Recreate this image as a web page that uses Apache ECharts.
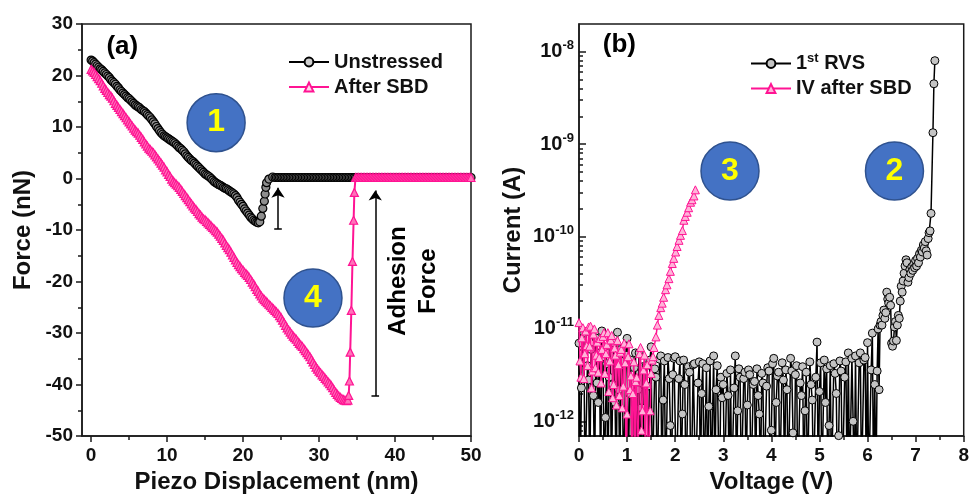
<!DOCTYPE html>
<html><head><meta charset="utf-8">
<script src="https://cdn.jsdelivr.net/npm/echarts@6/dist/echarts.min.js"></script>
<style>html,body{margin:0;padding:0;background:#fff}#c{width:972px;height:499px}</style>
</head><body><div id="c"></div><script>
// ---------------- Panel (a): force curves ----------------
const unstressedX = [
  0,0.2,0.4,0.6,0.8,1,1.2,1.4,1.6,1.8,
  2,2.2,2.4,2.6,2.8,3,3.2,3.4,3.6,3.8,
  4,4.2,4.4,4.6,4.8,5,5.2,5.4,5.6,5.8,
  6,6.2,6.4,6.6,6.8,7,7.2,7.4,7.6,7.8,
  8,8.2,8.4,8.6,8.8,9,9.2,9.4,9.6,9.8,
  10,10.2,10.4,10.6,10.8,11,11.2,11.4,11.6,11.8,
  12,12.2,12.4,12.6,12.8,13,13.2,13.4,13.6,13.8,
  14,14.2,14.4,14.6,14.8,15,15.2,15.4,15.6,15.8,
  16,16.2,16.4,16.6,16.8,17,17.2,17.4,17.6,17.8,
  18,18.2,18.4,18.6,18.8,19,19.2,19.4,19.6,19.8,
  20,20.2,20.4,20.6,20.8,21,21.2,21.4,21.6,21.8,
  22,22.2,22.4,22.6,22.8,22.9,23,23.1,23.4,23.9,
  24.2,24.4,24.6,24.8,25,25.2,25.4,25.6,25.8,26,26.2,26.4,26.6,26.8,27,27.2,27.4,27.6,27.8,28,
  28.2,28.4,28.6,28.8,29,29.2,29.4,29.6,29.8,30,30.2,30.4,30.6,30.8,31,31.2,31.4,31.6,31.8,32,
  32.2,32.4,32.6,32.8,33,33.2,33.4,33.6,33.8,34,34.2,34.4,34.6,34.8,35,
  35.4,35.8,36.2,36.6,37,37.4,37.8,38.2,38.6,39,39.4,39.8,40.2,40.6,41,41.4,41.8,42.2,42.6,43,
  43.4,43.8,44.2,44.6,45,45.4,45.8,46.2,46.6,47,47.4,47.8,48.2,48.6,49,49.4,49.8,50];
const unstressedF = [
  23.0,22.8,22.5,22.2,21.9,21.6,21.3,21.1,20.8,20.5,
  20.2,19.9,19.6,19.2,18.9,18.6,18.3,17.9,17.6,17.2,
  16.9,16.6,16.3,16.0,15.7,15.5,15.2,14.9,14.6,14.3,
  14.1,13.9,13.7,13.4,13.2,13.0,12.7,12.4,12.1,11.8,
  11.4,11.0,10.6,10.1,9.7,9.3,8.9,8.6,8.3,8.1,
  7.9,7.7,7.5,7.3,7.1,6.9,6.6,6.3,6.0,5.8,
  5.5,5.2,4.8,4.4,4.1,3.8,3.5,3.3,3.0,2.7,
  2.4,2.1,1.8,1.5,1.2,0.9,0.7,0.5,0.3,0.0,
  -0.3,-0.6,-0.8,-1.0,-1.2,-1.3,-1.5,-1.7,-1.9,-2.0,
  -2.2,-2.4,-2.6,-2.8,-3.0,-3.3,-3.7,-4.2,-4.6,-5.0,
  -5.4,-5.9,-6.3,-6.7,-7.1,-7.5,-7.8,-8.1,-8.3,-8.5,
  -8.6,-8.4,-7.3,-5.8,-4.4,-3.0,-1.7,-0.8,-0.1,0.3,
  0.2,0.2,0.2,0.2,0.2,0.2,0.2,0.2,0.2,0.2,0.2,0.2,0.2,0.2,0.2,0.2,0.2,0.2,0.2,0.2,
  0.2,0.2,0.2,0.2,0.2,0.2,0.2,0.2,0.2,0.2,0.2,0.2,0.2,0.2,0.2,0.2,0.2,0.2,0.2,0.2,
  0.2,0.2,0.2,0.2,0.2,0.2,0.2,0.2,0.2,0.2,0.2,0.2,0.2,0.2,0.2,
  0.2,0.2,0.2,0.2,0.2,0.2,0.2,0.2,0.2,0.2,0.2,0.2,0.2,0.2,0.2,0.2,0.2,0.2,0.2,0.2,
  0.2,0.2,0.2,0.2,0.2,0.2,0.2,0.2,0.2,0.2,0.2,0.2,0.2,0.2,0.2,0.2,0.2,0.2];
const afterSbdX = [
  0,0.2,0.4,0.6,0.8,1,1.2,1.4,1.6,1.8,
  2,2.2,2.4,2.6,2.8,3,3.2,3.4,3.6,3.8,
  4,4.2,4.4,4.6,4.8,5,5.2,5.4,5.6,5.8,
  6,6.2,6.4,6.6,6.8,7,7.2,7.4,7.6,7.8,
  8,8.2,8.4,8.6,8.8,9,9.2,9.4,9.6,9.8,
  10,10.2,10.4,10.6,10.8,11,11.2,11.4,11.6,11.8,
  12,12.2,12.4,12.6,12.8,13,13.2,13.4,13.6,13.8,
  14,14.2,14.4,14.6,14.8,15,15.2,15.4,15.6,15.8,
  16,16.2,16.4,16.6,16.8,17,17.2,17.4,17.6,17.8,
  18,18.2,18.4,18.6,18.8,19,19.2,19.4,19.6,19.8,
  20,20.2,20.4,20.6,20.8,21,21.2,21.4,21.6,21.8,
  22,22.2,22.4,22.6,22.8,23,23.2,23.4,23.6,23.8,
  24,24.2,24.4,24.6,24.8,25,25.2,25.4,25.6,25.8,
  26,26.2,26.4,26.6,26.8,27,27.2,27.4,27.6,27.8,
  28,28.2,28.4,28.6,28.8,29,29.2,29.4,29.6,29.8,
  30,30.2,30.4,30.6,30.8,31,31.2,31.4,31.6,31.8,
  32,32.2,32.4,32.6,32.8,33,33.2,33.4,33.6,
  33.8,33.9,34,34.1,34.25,34.4,34.55,34.65,34.8,
  35,35.2,35.4,35.6,35.8,36,36.2,36.4,36.6,36.8,
  37,37.2,37.4,37.6,37.8,38,38.2,38.4,38.6,38.8,
  39,39.2,39.4,39.6,39.8,40,40.2,40.4,40.6,40.8,
  41,41.2,41.4,41.6,41.8,42,42.2,42.4,42.6,42.8,
  43,43.2,43.4,43.6,43.8,44,44.2,44.4,44.6,44.8,
  45,45.2,45.4,45.6,45.8,46,46.2,46.4,46.6,46.8,
  47,47.2,47.4,47.6,47.8,48,48.2,48.4,48.6,48.8,
  49,49.2,49.4,49.6,49.8,50];
const afterSbdF = [
  21.2,20.9,20.6,20.2,19.8,19.4,19.0,18.5,18.0,17.5,
  17.1,16.7,16.3,16.0,15.6,15.1,14.6,14.2,13.8,13.4,
  13.0,12.6,12.2,11.8,11.4,11.0,10.6,10.2,9.8,9.4,
  9.1,8.8,8.4,8.0,7.6,7.1,6.7,6.3,5.9,5.6,
  5.3,5.0,4.6,4.2,3.8,3.4,3.0,2.6,2.2,1.7,
  1.3,0.8,0.4,-0.1,-0.5,-0.8,-1.1,-1.4,-1.7,-2.1,
  -2.5,-2.9,-3.3,-3.7,-4.1,-4.5,-4.9,-5.3,-5.7,-6.0,
  -6.4,-6.8,-7.1,-7.5,-7.8,-8.0,-8.3,-8.6,-8.9,-9.2,
  -9.5,-9.8,-10.1,-10.4,-10.8,-11.2,-11.6,-12.0,-12.5,-13.0,
  -13.4,-13.8,-14.3,-14.8,-15.3,-15.8,-16.3,-16.7,-17.1,-17.5,
  -17.8,-18.2,-18.5,-18.8,-19.2,-19.6,-20.1,-20.5,-21.0,-21.5,
  -21.9,-22.4,-22.8,-23.2,-23.5,-23.8,-24.1,-24.4,-24.7,-25.0,
  -25.3,-25.6,-25.9,-26.2,-26.6,-27.0,-27.5,-28.0,-28.5,-29.0,
  -29.4,-29.8,-30.2,-30.6,-30.9,-31.2,-31.6,-32.0,-32.3,-32.6,
  -33.0,-33.4,-33.8,-34.2,-34.6,-35.1,-35.6,-36.1,-36.6,-37.0,
  -37.4,-37.7,-38.1,-38.4,-38.8,-39.1,-39.5,-39.8,-40.2,-40.6,
  -41.1,-41.5,-41.9,-42.2,-42.5,-42.7,-42.9,-43.0,-43.1,
  -43.0,-42.1,-39.3,-33.7,-25.6,-16.1,-8.1,-2.7,0.2,
  0.2,0.2,0.2,0.2,0.2,0.2,0.2,0.2,0.2,0.2,
  0.2,0.2,0.2,0.2,0.2,0.2,0.2,0.2,0.2,0.2,
  0.2,0.2,0.2,0.2,0.2,0.2,0.2,0.2,0.2,0.2,
  0.2,0.2,0.2,0.2,0.2,0.2,0.2,0.2,0.2,0.2,
  0.2,0.2,0.2,0.2,0.2,0.2,0.2,0.2,0.2,0.2,
  0.2,0.2,0.2,0.2,0.2,0.2,0.2,0.2,0.2,0.2,
  0.2,0.2,0.2,0.2,0.2,0.2,0.2,0.2,0.2,0.2,
  0.2,0.2,0.2,0.2,0.2,0.2];

// ---------------- Panel (b): I-V curves (current in pA) ----------------
const rvsV = [
  0,0.025,0.05,0.075,0.1,0.125,0.15,0.175,0.2,0.225,0.25,0.275,0.3,0.325,0.35,0.375,0.4,0.425,0.45,0.475,
  0.5,0.525,0.55,0.575,0.6,0.625,0.65,0.675,0.7,0.725,0.75,0.775,0.8,0.825,0.85,0.875,0.9,0.925,0.95,0.975,
  1,1.025,1.05,1.075,1.1,1.125,1.15,1.175,1.2,1.225,1.25,1.275,1.3,1.325,1.35,1.375,1.4,1.425,1.45,1.475,
  1.5,1.525,1.55,1.575,1.6,1.625,1.65,1.675,1.7,1.725,1.75,1.775,1.8,1.825,1.85,1.875,1.9,1.925,1.95,1.975,
  2,2.025,2.05,2.075,2.1,2.125,2.15,2.175,2.2,2.225,2.25,2.275,2.3,2.325,2.35,2.375,2.4,2.425,2.45,2.475,
  2.5,2.525,2.55,2.575,2.6,2.625,2.65,2.675,2.7,2.725,2.75,2.775,2.8,2.825,2.85,2.875,2.9,2.925,2.95,2.975,
  3,3.025,3.05,3.075,3.1,3.125,3.15,3.175,3.2,3.225,3.25,3.275,3.3,3.325,3.35,3.375,3.4,3.425,3.45,3.475,
  3.5,3.525,3.55,3.575,3.6,3.625,3.65,3.675,3.7,3.725,3.75,3.775,3.8,3.825,3.85,3.875,3.9,3.925,3.95,3.975,
  4,4.025,4.05,4.075,4.1,4.125,4.15,4.175,4.2,4.225,4.25,4.275,4.3,4.325,4.35,4.375,4.4,4.425,4.45,4.475,
  4.5,4.525,4.55,4.575,4.6,4.625,4.65,4.675,4.7,4.725,4.75,4.775,4.8,4.825,4.85,4.875,4.9,4.925,4.95,4.975,
  5,5.025,5.05,5.075,5.1,5.125,5.15,5.175,5.2,5.225,5.25,5.275,5.3,5.325,5.35,5.375,5.4,5.425,5.45,5.475,
  5.5,5.525,5.55,5.575,5.6,5.625,5.65,5.675,5.7,5.725,5.75,5.775,5.8,5.825,5.85,5.875,5.9,5.925,5.95,5.975,
  6,6.025,6.05,6.075,6.1,6.125,6.15,6.175,
  6.2,6.22,6.24,6.26,6.28,6.3,6.32,6.34,6.36,6.38,6.4,6.42,6.44,6.46,6.48,6.5,6.52,6.54,6.56,6.58,
  6.6,6.62,6.64,6.66,6.68,6.7,6.72,6.74,6.76,6.78,6.8,6.82,6.84,6.86,6.88,6.9,6.92,6.94,6.96,6.98,
  7,7.02,7.04,7.06,7.08,7.1,7.12,7.14,7.16,7.18,7.2,7.22,7.24,7.26,7.28,7.3,7.32,7.36,7.38,7.4];
const rvsCurrentPA = [
  7,0.2,2.3,8,9,0.2,0.2,4,2.8,0.2,6,3.5,1.9,0.2,8,2.6,1.6,5.5,0.2,9.5,
  5,0.2,1.1,4.2,0.2,3,6.5,0.2,2.5,7,1.6,0.2,9.2,2.2,0.2,6,4.5,0.2,0.2,5.2,
  7.9,0.2,2.0,4.6,0.2,0.2,3.8,5.5,0.2,2.2,5.5,0.2,1.4,3.9,0.2,0.2,4.0,2.4,0.2,4.6,
  6.4,0.2,0.2,3.7,3.0,0.2,0.2,4.7,5.1,0.2,1.7,4.5,0.2,0.2,4.9,2.9,0.9,0.2,3.2,4.8,
  5.0,0.2,0.2,2.9,4.5,0.2,1.2,4.6,2.5,0.2,0.2,3.9,3.4,0.2,0.6,4.1,4.2,0.2,0.2,2.6,
  4.4,0.2,2.0,4.2,0.2,0.2,3.8,0.2,1.45,4.5,0.2,0.2,5.1,0.2,2.2,4.0,0.6,0.2,3.0,1.8,
  2.5,0.2,0.2,3.3,1.9,0.2,3.6,0.2,0.2,2.3,5.1,0.2,1.3,3.7,3.0,0.2,0.2,2.9,3.4,0.2,
  1.5,3.6,3.2,0.2,0.2,2.5,2.7,0.2,3.7,1.9,1.2,0.2,3.3,2.6,0.2,0.2,2.4,3.8,3.5,0.2,
  0.8,4.2,4.8,0.2,1.6,3.1,3.4,0.2,0.2,4.3,2.8,0.2,3.6,2.2,0.2,0.2,4.8,3.5,0.75,0.2,
  3.2,4.0,0.2,0.2,2.6,1.9,3.9,0.2,1.3,3.4,0.2,0.2,4.4,2.5,1.7,0.2,0.2,3.0,7.2,0.2,
  2.1,4.3,0.2,0.2,4.6,1.6,3.7,0.2,0.9,4.0,0.2,0.2,4.2,3.3,2.0,0.2,0.7,4.5,3.5,0.2,
  0.2,3.0,4.4,0.2,5.5,0.2,0.2,4.8,1.0,0.2,5.1,0.2,0.2,4.3,5.5,0.2,0.2,4.6,4.9,0.2,
  7.1,0.2,0.2,3.6,9.0,0.2,2.5,0.2,
  3.5,10,2.2,11,12,11,14,16,13,15, 25,21,19,22,18,7.0,6.5,7.4,10.5,12,
  7.5,11,14,13,20,29,25,33,40,48, 56,52,32,36,44,40,47,43,50,46,
  55,48,58,52,65,60,71,68,81,75, 88,70,63,95,110,115,178,1330,4500,8000];
const ivV = [0,0.02,0.04,0.06,0.08,0.1,0.12,0.14,0.16,0.18,0.2,0.22,0.24,0.26,0.28,0.3,0.32,0.34,0.36,0.38,
  0.4,0.42,0.44,0.46,0.48,0.5,0.52,0.54,0.56,0.58,0.6,0.62,0.64,0.66,0.68,0.7,0.72,0.74,0.76,0.78,
  0.8,0.82,0.84,0.86,0.88,0.9,0.92,0.94,0.96,0.98,1,1.02,1.04,1.06,1.08,1.1,1.12,1.14,1.16,1.18,
  1.2,1.22,1.24,1.26,1.28,1.3,1.32,1.34,1.36,1.38,1.4,1.42,1.44,1.46,1.48,1.5,1.52,1.54,1.56,
  1.6,1.63,1.66,1.7,1.73,1.76,1.8,1.83,1.87,1.9,1.94,1.97,2.01,2.04,2.08,2.11,2.15,2.18,2.21,2.25,2.28,2.32,2.35,2.39,2.42];
const ivCurrentPA = [11.7,4.5,3.0,8.0,10.3,2.9,5.4,9.5,6.6,4.0,10.5,6.5,10.7,2.3,3.5,8.8,10.0,3.8,5.2,7.2,
  3.4,4.9,7.9,2.6,6.0,8.3,9.1,3.3,5.4,6.8,9.1,2.1,4.5,7.6,8.5,1.8,2.5,6.2,5.2,1.5,
  7.5,4.1,1.9,5.6,6.0,1.4,2.4,7.0,4.3,0.2,1.2,5.0,6.9,2.2,3.1,0.2,2.0,4.4,0.2,2.7,
  3.0,0.2,0.2,5.4,6.3,0.8,1.3,3.6,5.2,0.2,2.6,4.1,0.2,0.2,1.3,3.3,4.6,5.0,6.3,
  8.2,11,14,17,19,22,26.6,30,35,42,51,58,68,78,91,103,116,150,165,183,205,235,250,275,320];

// ---------------- Tick labels / annotations ----------------
const forceXTicks = [0,10,20,30,40,50];
const forceXMinorTicks = [5,15,25,35,45];
const currentDecades = [-12,-11,-10,-9,-8];
const badgesA = [{t:'1', x:16.45, y:10.85}, {t:'4', x:29.2, y:-23.2}];
const badgesB = [{t:'3', x:3.14, y:-9.29}, {t:'2', x:6.56, y:-9.29}];

const FONT = '"Liberation Sans", Arial, Helvetica, sans-serif';
const AX = '#1a1a1a';
const PINK = '#ff1493';
const boldTxt = (s) => ({fontSize:s, fontWeight:'bold', color:'#111', fontFamily:FONT});

const pairs = (xs, ys) => xs.map((x,i)=>[x, ys[i]]);
const logPairs = (xs, pa) => xs.map((x,i)=>[x, Math.log10(pa[i]*1e-12)]);

const minorLog = [];
for (let n=-13; n<=-8; n++) for (let k=2; k<=9; k++) {
  const v = n + Math.log10(k);
  if (v > -12.16 && v < -7.70) minorLog.push(v);
}
const YMIN_B = -12.16, YMAX_B = -7.70;

const axisBase = {
  axisLine:{onZero:false, lineStyle:{color:AX, width:1.5}},
  splitLine:{show:false},
  nameLocation:'middle',
  nameTextStyle:boldTxt(24)
};
const tickStyle = {color:AX, width:1.5};
const badgeStyle = {
  symbol:'circle', symbolSize:58,
  itemStyle:{color:'#4472C4', borderColor:'#2F528F', borderWidth:1.5, opacity:1},
  label:{show:true, position:'inside', formatter:p=>p.data[2], color:'#FFFF00', fontSize:32, fontWeight:'bold', fontFamily:FONT},
  silent:true, z:5
};

const chart = echarts.init(document.getElementById('c'), null, {renderer:'canvas'});
chart.setOption({
  animation:false,
  textStyle:{fontFamily:FONT},
  grid:[
    {left:82, top:24, width:389, height:418, show:true, borderColor:AX, borderWidth:1.5, backgroundColor:'transparent'},
    {left:579, top:24, width:389, height:418, show:true, borderColor:AX, borderWidth:1.5, backgroundColor:'transparent'}
  ],
  xAxis:[
    Object.assign({}, axisBase, {type:'value', gridIndex:0, min:-1.2, max:50, position:'bottom',
      axisTick:{customValues:forceXTicks, length:6, lineStyle:tickStyle},
      axisLabel:Object.assign({customValues:forceXTicks, margin:10}, boldTxt(19)),
      name:'Piezo Displacement (nm)', nameGap:31}),
    {type:'value', gridIndex:0, min:-1.2, max:50, position:'bottom',
      axisLine:{show:false, onZero:false}, splitLine:{show:false}, axisLabel:{show:false},
      axisTick:{customValues:forceXMinorTicks, length:4, lineStyle:tickStyle}},
    Object.assign({}, axisBase, {type:'value', gridIndex:1, min:0, max:8, interval:1, position:'bottom',
      axisTick:{length:6, lineStyle:tickStyle},
      minorTick:{show:true, splitNumber:2, length:4, lineStyle:tickStyle},
      axisLabel:Object.assign({margin:10}, boldTxt(19)),
      name:'Voltage (V)', nameGap:31})
  ],
  yAxis:[
    Object.assign({}, axisBase, {type:'value', gridIndex:0, min:-50, max:30, interval:10, position:'left',
      axisTick:{length:6, lineStyle:tickStyle},
      minorTick:{show:true, splitNumber:2, length:4, lineStyle:tickStyle},
      axisLabel:Object.assign({margin:9}, boldTxt(19)),
      name:'Force (nN)', nameGap:47, nameRotate:90}),
    Object.assign({}, axisBase, {type:'value', gridIndex:1, min:YMIN_B, max:YMAX_B, position:'left',
      axisTick:{customValues:currentDecades, inside:true, length:7, lineStyle:tickStyle},
      axisLabel:{customValues:currentDecades, margin:5,
        formatter:(v)=>'{b|10}{s|' + Math.round(v) + '}',
        rich:{b:boldTxt(20), s:Object.assign(boldTxt(13), {padding:[0,0,12,0]})}},
      name:'Current (A)', nameGap:54, nameRotate:90}),
    {type:'value', gridIndex:1, min:YMIN_B, max:YMAX_B, position:'left',
      axisLine:{show:false, onZero:false}, splitLine:{show:false}, axisLabel:{show:false},
      axisTick:{customValues:minorLog, inside:true, length:4, lineStyle:tickStyle}}
  ],
  legend:[
    {data:[{name:'Unstressed', itemStyle:{color:'#cfcfcf'}}, {name:'After SBD', itemStyle:{color:'#ffd6ea'}}],
      left:283, top:47, orient:'vertical', itemWidth:40, itemHeight:11, itemGap:5,
      selectedMode:false, textStyle:boldTxt(20)},
    {data:['1st RVS','IV after SBD'], left:745, top:47, orient:'vertical', itemWidth:40, itemHeight:11, itemGap:5,
      selectedMode:false,
      formatter:(n)=> n==='1st RVS' ? '1{sup|st} RVS' : n,
      textStyle:Object.assign(boldTxt(20), {rich:{sup:Object.assign(boldTxt(13), {padding:[0,0,10,0]})}})}
  ],
  series:[
    {name:'Unstressed', type:'line', xAxisIndex:0, yAxisIndex:0, data:pairs(unstressedX, unstressedF),
      symbol:'circle', symbolSize:8, lineStyle:{color:'#000', width:2},
      itemStyle:{color:'#8e8e8e', borderColor:'#000', borderWidth:1.2}, silent:true, z:2},
    {name:'After SBD', type:'line', xAxisIndex:0, yAxisIndex:0, data:pairs(afterSbdX, afterSbdF),
      symbol:'triangle', symbolSize:8, lineStyle:{color:PINK, width:2},
      itemStyle:{color:'#ff72b9', borderColor:PINK, borderWidth:1.2}, silent:true, z:3},
    {name:'1st RVS', type:'line', xAxisIndex:2, yAxisIndex:1, data:logPairs(rvsV, rvsCurrentPA),
      symbol:'circle', symbolSize:8, lineStyle:{color:'#000', width:1.5},
      itemStyle:{color:'#c4c4c4', borderColor:'#000', borderWidth:1}, silent:true, z:2},
    {name:'IV after SBD', type:'line', xAxisIndex:2, yAxisIndex:1, data:logPairs(ivV, ivCurrentPA),
      symbol:'triangle', symbolSize:8, lineStyle:{color:PINK, width:1.5},
      itemStyle:{color:'#ffb3d9', borderColor:PINK, borderWidth:1}, silent:true, z:3},
    Object.assign({type:'scatter', xAxisIndex:0, yAxisIndex:0, data:badgesA.map(b=>[b.x,b.y,b.t])}, badgeStyle),
    Object.assign({type:'scatter', xAxisIndex:2, yAxisIndex:1, data:badgesB.map(b=>[b.x,b.y,b.t])}, badgeStyle),
    {type:'scatter', xAxisIndex:0, yAxisIndex:0, symbolSize:0, silent:true, z:6,
      itemStyle:{opacity:1},
      data:[{value:[4.1,25.6], label:{formatter:'(a)', fontSize:26}},
            {value:[42.4,-19.9], label:{formatter:'Adhesion\nForce', fontSize:24, rotate:90, lineHeight:30}}],
      label:{show:true, position:'inside', color:'#000', fontWeight:'bold', fontFamily:FONT},
      markLine:{silent:true, symbol:['none','arrow'], symbolSize:10, label:{show:false},
        lineStyle:{color:'#000', width:1.5, type:'solid', opacity:1},
        data:[
          [{coord:[24.6,-9.8]},{coord:[24.6,-1.8]}],
          [{coord:[37.4,-42.2]},{coord:[37.4,-2.3]}],
          [{coord:[24.1,-9.8], symbol:'none'},{coord:[25.1,-9.8], symbol:'none'}],
          [{coord:[36.9,-42.2], symbol:'none'},{coord:[37.9,-42.2], symbol:'none'}]
        ]}},
    {type:'scatter', xAxisIndex:2, yAxisIndex:1, symbolSize:0, silent:true, z:6,
      itemStyle:{opacity:1},
      data:[{value:[0.84,-7.93], label:{formatter:'(b)', fontSize:26}}],
      label:{show:true, position:'inside', color:'#000', fontWeight:'bold', fontFamily:FONT}}
  ]
});
</script></body></html>
